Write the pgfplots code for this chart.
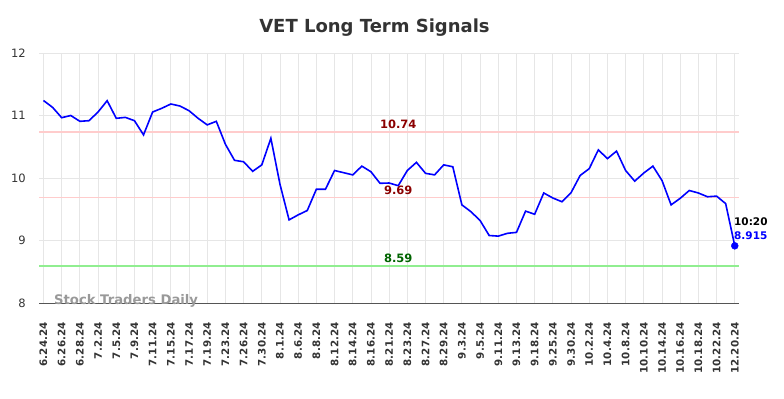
\documentclass[border=0pt]{standalone}
\usepackage{fontspec}
\setmainfont{DejaVu Sans}
\usepackage{pgfplots}
\pgfplotsset{compat=1.18}
\definecolor{gridc}{HTML}{E6E6E6}
\definecolor{axc}{HTML}{555555}
\definecolor{resl}{HTML}{FFCCCC}
\definecolor{supl}{HTML}{90EE90}
\definecolor{txtc}{HTML}{333333}
\definecolor{dred}{HTML}{8B0000}
\definecolor{dgreen}{HTML}{006400}
\begin{document}
\begin{tikzpicture}[x=1bp,y=1bp]
\begin{axis}[
  scale only axis, width=700bp, height=250bp,
  xmin=-0.46, xmax=76.5, ymin=8, ymax=12,
  clip=false,
  axis lines*=left,
  y axis line style={draw=none},
  x axis line style={color=axc, line width=1bp},
  major tick length=0pt,
  grid=major, grid style={color=gridc, line width=0.8bp},
  xtick={0,2,...,76},
  xticklabels={6.24.24,6.26.24,6.28.24,7.2.24,7.5.24,7.9.24,7.11.24,7.15.24,7.17.24,7.19.24,7.23.24,7.26.24,7.30.24,8.1.24,8.6.24,8.8.24,8.12.24,8.14.24,8.16.24,8.21.24,8.23.24,8.27.24,8.29.24,9.3.24,9.5.24,9.11.24,9.13.24,9.18.24,9.25.24,9.30.24,10.2.24,10.4.24,10.8.24,10.10.24,10.14.24,10.16.24,10.18.24,10.22.24,12.20.24},
  xticklabel style={rotate=90, anchor=east, font=\bfseries\fontsize{10.3bp}{12bp}\selectfont, color=txtc},
  xticklabel shift=16bp,
  ytick={8,9,10,11,12},
  yticklabel style={font=\fontsize{11.5bp}{13bp}\selectfont, color=txtc},
  yticklabel shift=10bp,
  /pgf/number format/assume math mode=true,
]
\coordinate (LL) at (rel axis cs:0,0);
\addplot[resl, line width=1.5bp] coordinates {(-0.46,10.74) (76.5,10.74)};
\addplot[resl, line width=1.5bp] coordinates {(-0.46,9.69) (76.5,9.69)};
\addplot[supl, line width=1.5bp] coordinates {(-0.46,8.59) (76.5,8.59)};
\addplot[blue, line width=1.6bp] coordinates {
(0,11.24) (1,11.13) (2,10.965) (3,11.00) (4,10.907) (5,10.917) (6,11.056) (7,11.237) (8,10.955) (9,10.97)
(10,10.917) (11,10.69) (12,11.056) (13,11.115) (14,11.184) (15,11.152) (16,11.077) (17,10.955) (18,10.85) (19,10.907)
(20,10.54) (21,10.283) (22,10.26) (23,10.107) (24,10.21) (25,10.635) (26,9.9) (27,9.33) (28,9.41) (29,9.48)
(30,9.82) (31,9.82) (32,10.12) (33,10.085) (34,10.05) (35,10.19) (36,10.10) (37,9.915) (38,9.92) (39,9.877)
(40,10.12) (41,10.25) (42,10.075) (43,10.05) (44,10.21) (45,10.18) (46,9.57) (47,9.46) (48,9.32) (49,9.08)
(50,9.07) (51,9.115) (52,9.13) (53,9.47) (54,9.42) (55,9.76) (56,9.68) (57,9.62) (58,9.765) (59,10.04)
(60,10.15) (61,10.45) (62,10.31) (63,10.43) (64,10.12) (65,9.95) (66,10.08) (67,10.19) (68,9.96) (69,9.57)
(70,9.675) (71,9.80) (72,9.76) (73,9.70) (74,9.71) (75,9.59) (76,8.915)
};
\addplot[blue, only marks, mark=*, mark size=3.5bp] coordinates {(76,8.915)};
\node[anchor=base, inner sep=0, yshift=3.7bp, text=dred, font=\bfseries\fontsize{11.5bp}{13bp}\selectfont] at (axis cs:39,10.74) {10.74};
\node[anchor=base, inner sep=0, yshift=3.2bp, text=dred, font=\bfseries\fontsize{11.5bp}{13bp}\selectfont] at (axis cs:39,9.69) {9.69};
\node[anchor=base, inner sep=0, yshift=3.2bp, text=dgreen, font=\bfseries\fontsize{11.5bp}{13bp}\selectfont] at (axis cs:39,8.59) {8.59};
\node[anchor=base west, inner sep=0, xshift=-0.8bp, yshift=6.7bp, text=blue, font=\bfseries\fontsize{10.5bp}{12bp}\selectfont] at (axis cs:76,8.915) {8.915};
\node[anchor=base west, inner sep=0, xshift=-0.8bp, yshift=20bp, text=black, font=\bfseries\fontsize{10.5bp}{12bp}\selectfont] at (axis cs:76,8.915) {10:20};
\node[anchor=base west, inner sep=0, text=black!40, font=\bfseries\fontsize{13.2bp}{15bp}\selectfont] at (axis cs:1.15,7.98) {Stock Traders Daily};
\end{axis}
\node[text=txtc, font=\bfseries\fontsize{18bp}{20bp}\selectfont] at ([shift={(335.2,275)}]LL) {VET Long Term Signals};
\pgfresetboundingbox
\path[use as bounding box] ([shift={(-39.3,-95)}]LL) rectangle ([shift={(744.7,303)}]LL);
\end{tikzpicture}
\end{document}
